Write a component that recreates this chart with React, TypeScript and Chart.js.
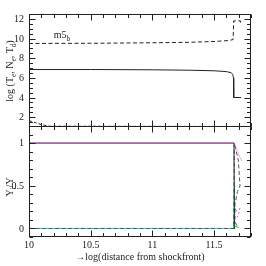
import React, { useEffect, useRef } from "react";
import { Chart, registerables } from "chart.js";
Chart.register(...registerables);

// ---------- data ----------
const xMajorTicks = [10, 10.5, 11, 11.5];
const topYTicks = [2, 4, 6, 8, 10, 12];
const bottomYTicks = [0, 0.5, 1];

// top panel: log Te (solid), log Ne (dashed), log Td
const teDist = [10, 10.5, 11, 11.3, 11.5, 11.6, 11.64, 11.652, 11.658, 11.66, 11.72];
const teLog = [6.85, 6.85, 6.82, 6.78, 6.72, 6.64, 6.52, 6.35, 6.0, 4.0, 4.0];
const neDist = [10, 10.5, 11, 11.3, 11.5, 11.62, 11.655, 11.66, 11.715, 11.72];
const neLog = [9.5, 9.52, 9.57, 9.62, 9.7, 9.8, 9.9, 11.8, 11.8, 11.4];
const tdDist = [10, 10.05, 10.1, 10.16, 11.8];
const tdLog = [1.65, 1.45, 1.25, 1.08, 1.05];

// bottom panel: abundance fractions Y_i/Y
const blackDist = [10, 11.662, 11.665, 11.672];
const blackFrac = [1, 1, 0, 0];
const magentaDist = [10, 11.665, 11.69, 11.725];
const magentaFrac = [1, 1, 0.9, 0.79];
const cyanDist = [10, 11.662, 11.665, 11.68];
const cyanFrac = [0, 0, 0.48, 0.5];
const greenDist = [11.662, 11.667, 11.685];
const greenFrac = [0, 0.24, 0.2];
const green2Dist = [11.665, 11.7];
const green2Frac = [0.03, 0.01];
const dashDist = [10, 11.66, 11.665, 11.697, 11.711, 11.69, 11.67, 11.67, 11.69];
const dashFrac = [0, 0, 1, 0.8, 0.5, 0.43, 0.28, 0.08, 0.02];
const magenta2Dist = [11.71, 11.7, 11.685];
const magenta2Frac = [0.24, 0.17, 0.12];

const zip = (xs: number[], ys: number[]) => xs.map((x, i) => ({ x, y: ys[i] }));

const FONT = "'Liberation Serif', serif";
const TEXT = "#222";
const X_MIN = 10;
const X_MAX = 11.8;

type Seg = { t: string; sub?: boolean };

function drawRich(ctx: CanvasRenderingContext2D, segs: Seg[], x: number, y: number, size: number, rotate: boolean, center = true) {
  ctx.save();
  ctx.translate(x, y);
  if (rotate) ctx.rotate(-Math.PI / 2);
  ctx.fillStyle = TEXT;
  ctx.textBaseline = "alphabetic";
  ctx.textAlign = "left";
  const subSize = size * 0.72;
  let total = 0;
  for (const s of segs) {
    ctx.font = `${s.sub ? subSize : size}px ${FONT}`;
    total += ctx.measureText(s.t).width;
  }
  let cx = center ? -total / 2 : 0;
  for (const s of segs) {
    ctx.font = `${s.sub ? subSize : size}px ${FONT}`;
    ctx.fillText(s.t, cx, s.sub ? size * 0.3 + size * 0.35 : size * 0.35);
    cx += ctx.measureText(s.t).width;
  }
  ctx.restore();
}

type FrameCfg = {
  yMin: number; yMax: number; yMinor: number; yMajor: number;
  yLabels: number[]; xLabels: number[];
  extra?: (chart: any) => void;
};

function makeFramePlugin(cfg: FrameCfg) {
  return {
    id: "frameTicks",
    afterDraw(chart: any) {
      const { ctx, chartArea: a, scales } = chart;
      const xs = scales.x;
      const ys = scales.y;
      ctx.save();
      ctx.setLineDash([]);
      ctx.globalAlpha = 1;
      ctx.strokeStyle = "#222";
      ctx.lineWidth = 1;
      const L = Math.round(a.left) + 0.5;
      const R = Math.round(a.right) - 0.5;
      const T = Math.round(a.top) + 0.5;
      const B = Math.round(a.bottom) - 0.5;
      ctx.strokeRect(L, T, R - L, B - T);
      const seg = (x1: number, y1: number, x2: number, y2: number) => {
        ctx.beginPath();
        ctx.moveTo(x1, y1);
        ctx.lineTo(x2, y2);
        ctx.stroke();
      };
      const drawAxis = (scale: any, min: number, max: number, minor: number, major: number, horiz: boolean) => {
        const n = Math.round((max - min) / minor);
        for (let i = 0; i <= n; i++) {
          const v = min + i * minor;
          const r = v / major;
          const isMajor = Math.abs(r - Math.round(r)) < 1e-6;
          const len = isMajor ? 6 : 3.5;
          const p = Math.round(scale.getPixelForValue(v)) + 0.5;
          if (horiz) {
            seg(p, B, p, B - len);
            seg(p, T, p, T + len);
          } else {
            seg(L, p, L + len, p);
            seg(R, p, R - len, p);
          }
        }
      };
      drawAxis(xs, X_MIN, X_MAX, 0.1, 0.5, true);
      drawAxis(ys, cfg.yMin, cfg.yMax, cfg.yMinor, cfg.yMajor, false);

      ctx.fillStyle = TEXT;
      ctx.font = `10px ${FONT}`;
      ctx.textAlign = "right";
      ctx.textBaseline = "middle";
      for (const v of cfg.yLabels) {
        ctx.fillText(String(v), a.left - 5, ys.getPixelForValue(v) + 0.5);
      }
      ctx.textAlign = "center";
      ctx.textBaseline = "top";
      for (const v of cfg.xLabels) {
        ctx.fillText(String(v), xs.getPixelForValue(v), a.bottom + 3);
      }
      ctx.restore();
      if (cfg.extra) cfg.extra(chart);
    },
  };
}

function lineDs(data: any, color: string, dash: number[] = [], width = 1) {
  return {
    data,
    borderColor: color,
    borderWidth: width,
    borderDash: dash,
    pointRadius: 0,
    fill: false,
    tension: 0,
  };
}

const hiddenScales = (yMin: number, yMax: number) => ({
  x: { type: "linear" as const, min: X_MIN, max: X_MAX, display: false },
  y: { type: "linear" as const, min: yMin, max: yMax, display: false },
});

export default function App() {
  const topRef = useRef<HTMLCanvasElement>(null);
  const botRef = useRef<HTMLCanvasElement>(null);

  useEffect(() => {
    const top = new Chart(topRef.current!, {
      type: "line",
      data: {
        datasets: [
          lineDs(zip(teDist, teLog), "#222"),
          lineDs(zip(neDist, neLog), "#222", [4, 2.5]),
          lineDs(zip(tdDist, tdLog), "#222", [3, 2]),
        ],
      },
      options: {
        animation: false,
        responsive: false,
        maintainAspectRatio: false,
        layout: { padding: { top: 14, bottom: 0, left: 29, right: 15 } },
        plugins: { legend: { display: false }, tooltip: { enabled: false } },
        scales: hiddenScales(1, 12.5),
      },
      plugins: [
        makeFramePlugin({
          yMin: 1, yMax: 12.5, yMinor: 0.5, yMajor: 2,
          yLabels: topYTicks, xLabels: [],
          extra: (chart: any) => {
            const ctx = chart.ctx;
            drawRich(ctx, [{ t: "log (T" }, { t: "e", sub: true }, { t: ", N" }, { t: "e", sub: true }, { t: ", T" }, { t: "d", sub: true }, { t: ")" }], 9, 71, 10, true);
            const px = chart.scales.x.getPixelForValue(10.2);
            const py = chart.scales.y.getPixelForValue(10.4);
            drawRich(ctx, [{ t: "m5" }, { t: "b", sub: true }], px, py, 10, false, false);
          },
        }),
      ],
    });

    // Chart.js paints the first dataset on top
    const bot = new Chart(botRef.current!, {
      type: "line",
      data: {
        datasets: [
          lineDs(zip(magenta2Dist, magenta2Frac), "#ff44ff", [2, 2]),
          lineDs(zip(magentaDist, magentaFrac), "rgba(255,60,255,0.5)"),
          lineDs(zip(blackDist, blackFrac), "#222"),
          lineDs(zip(dashDist, dashFrac), "#555", [4, 2.5]),
          lineDs(zip(cyanDist, cyanFrac), "#00e0e0"),
          lineDs(zip(green2Dist, green2Frac), "#00e000"),
          lineDs(zip(greenDist, greenFrac), "#00e000"),
        ],
      },
      options: {
        animation: false,
        responsive: false,
        maintainAspectRatio: false,
        layout: { padding: { top: 0, bottom: 29, left: 29, right: 15 } },
        plugins: { legend: { display: false }, tooltip: { enabled: false } },
        scales: hiddenScales(-0.1, 1.2),
      },
      plugins: [
        makeFramePlugin({
          yMin: -0.1, yMax: 1.2, yMinor: 0.1, yMajor: 0.5,
          yLabels: bottomYTicks, xLabels: xMajorTicks,
          extra: (chart: any) => {
            const ctx = chart.ctx;
            drawRich(ctx, [{ t: "Y" }, { t: "i", sub: true }, { t: "/Y" }], 9, 61, 10, true);
            ctx.save();
            ctx.fillStyle = TEXT;
            ctx.font = `10px ${FONT}`;
            ctx.textAlign = "center";
            ctx.textBaseline = "middle";
            ctx.fillText("\u2192log(distance from shockfront)", 140, 131);
            ctx.restore();
          },
        }),
      ],
    });

    return () => {
      top.destroy();
      bot.destroy();
    };
  }, []);

  return (
    <div style={{ position: "fixed", left: 0, top: 0, width: 266, height: 266, background: "#fff" }}>
      <canvas ref={topRef} width={266} height={127} style={{ position: "absolute", left: 0, top: 0, width: 266, height: 127 }} />
      <canvas ref={botRef} width={266} height={140} style={{ position: "absolute", left: 0, top: 126, width: 266, height: 140 }} />
    </div>
  );
}
